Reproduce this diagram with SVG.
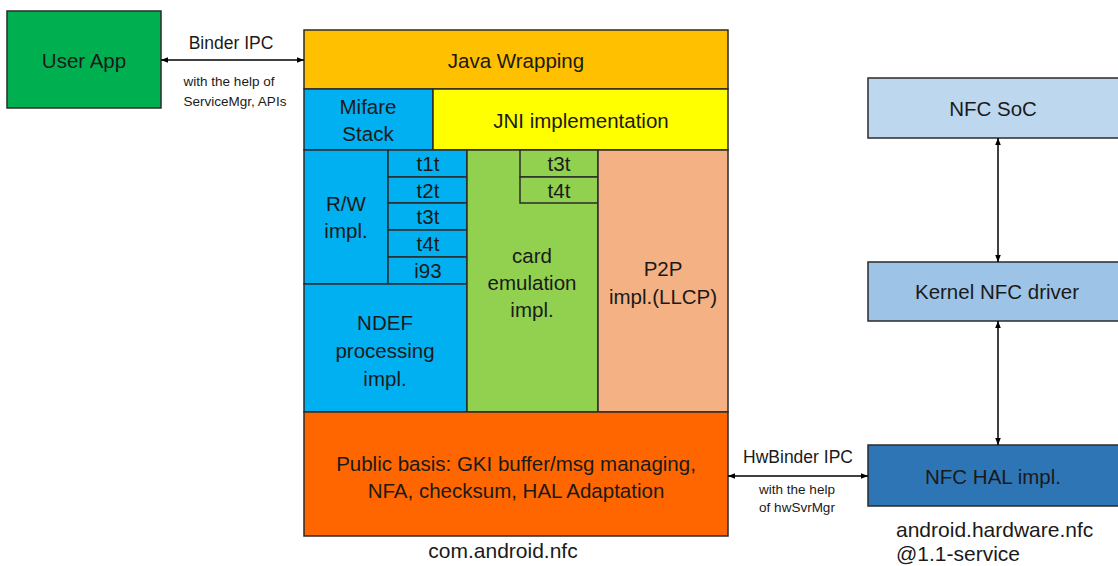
<svg xmlns="http://www.w3.org/2000/svg" width="1118" height="566" viewBox="0 0 1118 566">
  <defs>
    <style>
      .box { stroke: #2b2b2b; stroke-width: 1.5; }
      .t { font-family: "Liberation Sans", Arial, sans-serif; font-size: 20.5px; fill: #1a1a1a; text-anchor: middle; dominant-baseline: central; }
      .s { font-family: "Liberation Sans", Arial, sans-serif; font-size: 13.5px; fill: #1a1a1a; text-anchor: middle; dominant-baseline: central; }
      .m { font-family: "Liberation Sans", Arial, sans-serif; font-size: 17.5px; fill: #1a1a1a; text-anchor: middle; dominant-baseline: central; }
      .l { font-family: "Liberation Sans", Arial, sans-serif; font-size: 21px; fill: #1a1a1a; dominant-baseline: central; }
      .conn { stroke: #000; stroke-width: 1.5; fill: none; marker-start: url(#ah); marker-end: url(#ah); }
    </style>
    <marker id="ah" viewBox="0 0 10 10" refX="10" refY="5" markerWidth="7" markerHeight="7" orient="auto-start-reverse" markerUnits="userSpaceOnUse">
      <path d="M0,1 L10,5 L0,9 z" fill="#000"/>
    </marker>
  </defs>

  <g id="user-app">
    <rect class="box" x="7" y="11" width="154" height="97" fill="#00B050"/>
    <text class="t" x="84" y="60">User App</text>
  </g>

  <g id="java-wrapping">
    <rect class="box" x="304" y="30" width="424" height="59" fill="#FFC000"/>
    <text class="t" x="516" y="60">Java Wrapping</text>
  </g>
  <g id="mifare-stack">
    <rect class="box" x="304" y="89" width="129" height="61" fill="#00B0F0"/>
    <text class="t" x="368" y="106">Mifare</text>
    <text class="t" x="368" y="133">Stack</text>
  </g>
  <g id="jni">
    <rect class="box" x="433" y="89" width="295" height="61" fill="#FFFF00"/>
    <text class="t" x="581" y="120">JNI implementation</text>
  </g>
  <g id="rw-impl">
    <rect class="box" x="304" y="150" width="84" height="134" fill="#00B0F0"/>
    <text class="t" x="346" y="203">R/W</text>
    <text class="t" x="346" y="230">impl.</text>
  </g>
  <g id="rw-tags">
    <rect class="box" x="388" y="150" width="79" height="27" fill="#00B0F0"/>
    <text class="t" x="428" y="163">t1t</text>
    <rect class="box" x="388" y="177" width="79" height="26" fill="#00B0F0"/>
    <text class="t" x="428" y="190">t2t</text>
    <rect class="box" x="388" y="203" width="79" height="27" fill="#00B0F0"/>
    <text class="t" x="428" y="216">t3t</text>
    <rect class="box" x="388" y="230" width="79" height="27" fill="#00B0F0"/>
    <text class="t" x="428" y="243">t4t</text>
    <rect class="box" x="388" y="257" width="79" height="27" fill="#00B0F0"/>
    <text class="t" x="428" y="270">i93</text>
  </g>
  <g id="ndef">
    <rect class="box" x="304" y="284" width="163" height="128" fill="#00B0F0"/>
    <text class="t" x="385" y="322">NDEF</text>
    <text class="t" x="385" y="350">processing</text>
    <text class="t" x="385" y="378">impl.</text>
  </g>
  <g id="card-emulation">
    <rect class="box" x="467" y="150" width="131" height="262" fill="#92D050"/>
    <text class="t" x="532" y="255">card</text>
    <text class="t" x="532" y="282">emulation</text>
    <text class="t" x="532" y="309">impl.</text>
  </g>
  <g id="ce-tags">
    <rect class="box" x="520" y="150" width="78" height="27" fill="#92D050"/>
    <text class="t" x="559" y="163">t3t</text>
    <rect class="box" x="520" y="177" width="78" height="26" fill="#92D050"/>
    <text class="t" x="559" y="190">t4t</text>
  </g>
  <g id="p2p">
    <rect class="box" x="598" y="150" width="130" height="262" fill="#F4B183"/>
    <text class="t" x="663" y="268">P2P</text>
    <text class="t" x="663" y="296">impl.(LLCP)</text>
  </g>
  <g id="public-basis">
    <rect class="box" x="304" y="412" width="424" height="124" fill="#FF6600"/>
    <text class="t" x="516" y="463">Public basis: GKI buffer/msg managing,</text>
    <text class="t" x="516" y="490">NFA, checksum, HAL Adaptation</text>
  </g>
  <text class="t" x="503" y="550" style="font-size:21px">com.android.nfc</text>

  <g id="nfc-soc">
    <rect class="box" x="868" y="78" width="252" height="60" fill="#BDD7EE"/>
    <text class="t" x="993" y="108">NFC SoC</text>
  </g>
  <g id="kernel-driver">
    <rect class="box" x="868" y="262" width="252" height="59" fill="#9DC3E6"/>
    <text class="t" x="997" y="291">Kernel NFC driver</text>
  </g>
  <g id="nfc-hal">
    <rect class="box" x="868" y="445" width="252" height="61" fill="#2E75B6"/>
    <text class="t" x="993" y="476">NFC HAL impl.</text>
    <text class="l" x="896" y="529">android.hardware.nfc</text>
    <text class="l" x="896" y="553">@1.1-service</text>
  </g>

  <g id="connectors">
    <line class="conn" x1="161" y1="60" x2="304" y2="60"/>
    <text class="m" x="231" y="43">Binder IPC</text>
    <text class="s" x="229" y="81">with the help of</text>
    <text class="s" x="235" y="101">ServiceMgr, APIs</text>

    <line class="conn" x1="998" y1="138" x2="998" y2="262"/>
    <line class="conn" x1="998" y1="321" x2="998" y2="445"/>

    <line class="conn" x1="728" y1="476" x2="868" y2="476"/>
    <text class="m" x="798" y="457">HwBinder IPC</text>
    <text class="s" x="797" y="489">with the help</text>
    <text class="s" x="797" y="507">of hwSvrMgr</text>
  </g>
</svg>
